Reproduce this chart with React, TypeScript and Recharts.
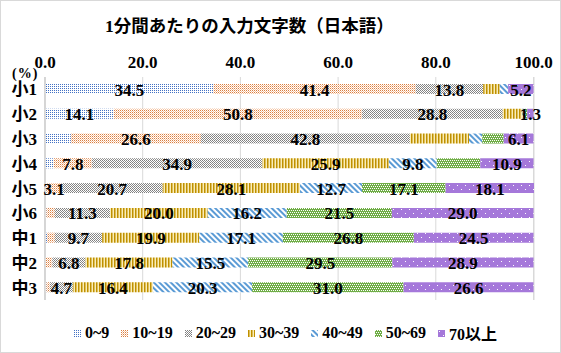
import React from "react";
import {
  BarChart,
  Bar,
  XAxis,
  YAxis,
  CartesianGrid,
  Legend,
  LabelList,
} from "recharts";

const grades = ["小1", "小2", "小3", "小4", "小5", "小6", "中1", "中2", "中3"];

const s0to9 = [34.5, 14.1, 5.3, 1.8, 0.3, 0.3, 0.4, 0.2, 0.3];
const s10to19 = [41.4, 50.8, 26.6, 7.8, 3.1, 1.7, 1.6, 1.3, 0.7];
const s20to29 = [13.8, 28.8, 42.8, 34.9, 20.7, 11.3, 9.7, 6.8, 4.7];
const s30to39 = [3.4, 4.0, 12.1, 25.9, 28.1, 20.0, 19.9, 17.8, 16.4];
const s40to49 = [1.7, 0.6, 2.7, 9.8, 12.7, 16.2, 17.1, 15.5, 20.3];
const s50to69 = [0.0, 0.4, 4.4, 8.9, 17.1, 21.5, 26.8, 29.5, 31.0];
const s70plus = [5.2, 1.3, 6.1, 10.9, 18.1, 29.0, 24.5, 28.9, 26.6];

const xTicks = [0, 20, 40, 60, 80, 100];

// labels that were removed from the original chart
const hiddenLabels: Record<string, string[]> = {
  r0: ["小3", "小4", "小5", "小6", "中1", "中2", "中3"],
  r1: ["小6", "中1", "中2", "中3"],
  r2: [],
  r3: ["小1", "小2", "小3"],
  r4: ["小1", "小2", "小3"],
  r5: ["小1", "小2", "小3"],
  r6: [],
};

const SERIES = [
  { key: "r0", name: "0~9", values: s0to9, pattern: "pat0" },
  { key: "r1", name: "10~19", values: s10to19, pattern: "pat1" },
  { key: "r2", name: "20~29", values: s20to29, pattern: "pat2" },
  { key: "r3", name: "30~39", values: s30to39, pattern: "pat3" },
  { key: "r4", name: "40~49", values: s40to49, pattern: "pat4" },
  { key: "r5", name: "50~69", values: s50to69, pattern: "pat5" },
  { key: "r6", name: "70以上", values: s70plus, pattern: "pat6" },
];

const data = grades.map((grade, i) => {
  const row: Record<string, string | number> = { grade };
  SERIES.forEach((s) => {
    row[s.key] = s.values[i];
  });
  return row;
});

const FONT = "'Liberation Serif', 'Noto Sans CJK JP', serif";

function Patterns() {
  return (
    <svg width={0} height={0} style={{ position: "absolute" }}>
      <defs>
        <pattern id="pat0" width={2} height={2} patternUnits="userSpaceOnUse">
          <rect width={2} height={2} fill="#ffffff" />
          <rect width={1} height={1} fill="#4472C4" />
        </pattern>
        <pattern id="pat1" width={2} height={2} patternUnits="userSpaceOnUse">
          <rect width={2} height={2} fill="#ffffff" />
          <rect width={1} height={1} fill="#DB7F40" />
          <rect x={1} y={1} width={1} height={1} fill="#F6C3A0" />
        </pattern>
        <pattern id="pat2" width={2} height={2} patternUnits="userSpaceOnUse">
          <rect width={2} height={2} fill="#ffffff" />
          <rect width={1} height={1} fill="#7F7F7F" />
          <rect x={1} y={1} width={1} height={1} fill="#8C8C8C" />
        </pattern>
        <pattern id="pat3" width={3} height={3} patternUnits="userSpaceOnUse">
          <rect width={3} height={3} fill="#FAEDB8" />
          <rect width={1.5} height={3} fill="#BF9000" />
        </pattern>
        <pattern
          id="pat4"
          width={4}
          height={4}
          patternUnits="userSpaceOnUse"
          patternTransform="rotate(-45)"
        >
          <rect width={4} height={4} fill="#ffffff" />
          <rect width={2} height={4} fill="#5B9BD5" />
        </pattern>
        <pattern id="pat5" width={4} height={4} patternUnits="userSpaceOnUse">
          <rect width={4} height={4} fill="#70AD47" />
          <rect x={0} y={0} width={1} height={1} fill="#ffffff" />
          <rect x={2} y={0} width={1} height={1} fill="#ffffff" />
          <rect x={1} y={2} width={1} height={1} fill="#ffffff" />
          <rect x={3} y={2} width={1} height={1} fill="#ffffff" />
        </pattern>
        <pattern id="pat6" width={8} height={8} patternUnits="userSpaceOnUse">
          <rect width={8} height={8} fill="#A578DA" />
          <rect x={1} y={1} width={1} height={1} fill="#ffffff" />
          <rect x={5} y={5} width={1} height={1} fill="#ffffff" />
        </pattern>
      </defs>
    </svg>
  );
}

function makeLabel(seriesKey: string) {
  return (props: any) => {
    const { x, y, width, height, value, index } = props;
    if (hiddenLabels[seriesKey].includes(grades[index])) return null;
    return (
      <text
        x={Number(x) + Number(width) / 2}
        y={Number(y) + Number(height) / 2 + 1}
        textAnchor="middle"
        dominantBaseline="central"
        fontFamily={FONT}
        fontWeight="bold"
        fontSize={17}
        fill="#000"
      >
        {Number(value).toFixed(1)}
      </text>
    );
  };
}

function LegendContent() {
  return (
    <div
      style={{
        display: "flex",
        justifyContent: "center",
        alignItems: "center",
        height: 20,
        paddingLeft: 10,
        fontFamily: FONT,
        fontWeight: "bold",
        fontSize: 16,
        color: "#000",
      }}
    >
      {SERIES.map((s) => (
        <div
          key={s.key}
          style={{ display: "flex", alignItems: "center", margin: "0 6px" }}
        >
          <svg width={7} height={7} style={{ marginRight: 4 }}>
            <rect width={7} height={7} fill={`url(#${s.pattern})`} />
          </svg>
          <span>{s.name}</span>
        </div>
      ))}
    </div>
  );
}

export default function App() {
  return (
    <div
      style={{
        position: "absolute",
        left: 0,
        top: 0,
        width: 561,
        height: 353,
        background: "#fff",
      }}
    >
      <Patterns />
      <BarChart
        width={561}
        height={353}
        data={data}
        layout="vertical"
        margin={{ top: 47, right: 27, bottom: 33, left: 0 }}
        barSize={10}
      >
        <CartesianGrid horizontal={false} stroke="#D9D9D9" />
        <XAxis
          type="number"
          orientation="top"
          domain={[0, 100]}
          ticks={xTicks}
          tickFormatter={(v: number) => v.toFixed(1)}
          axisLine={false}
          tickLine={false}
          height={30}
          tickMargin={3}
          tick={{ fontFamily: FONT, fontWeight: "bold", fontSize: 17, fill: "#000" }}
        />
        <YAxis
          type="category"
          dataKey="grade"
          width={45}
          interval={0}
          axisLine={{ stroke: "#BFBFBF" }}
          tickLine={false}
          tick={{ fontFamily: FONT, fontWeight: "bold", fontSize: 17, fill: "#000" }}
        />
        {SERIES.map((s) => (
          <Bar
            key={s.key}
            dataKey={s.key}
            name={s.name}
            stackId="a"
            fill={`url(#${s.pattern})`}
            isAnimationActive={false}
          >
            <LabelList dataKey={s.key} content={makeLabel(s.key)} />
          </Bar>
        ))}
        <Legend
          content={<LegendContent />}
          wrapperStyle={{ top: 323, left: 0, width: 561 }}
        />
      </BarChart>
      <div
        style={{
          position: "absolute",
          left: 105,
          top: 12,
          fontFamily: FONT,
          fontWeight: "bold",
          fontSize: 17.5,
          color: "#000",
          whiteSpace: "nowrap",
        }}
      >
        1分間あたりの入力文字数（日本語）
      </div>
      <div
        style={{
          position: "absolute",
          left: 12,
          top: 67,
          fontFamily: FONT,
          fontWeight: "bold",
          fontSize: 14,
          lineHeight: "14px",
          letterSpacing: 1,
          color: "#000",
        }}
      >
        (%)
      </div>
      <div
        style={{
          position: "absolute",
          inset: 0,
          border: "1px solid #D9D9D9",
          pointerEvents: "none",
        }}
      />
    </div>
  );
}
